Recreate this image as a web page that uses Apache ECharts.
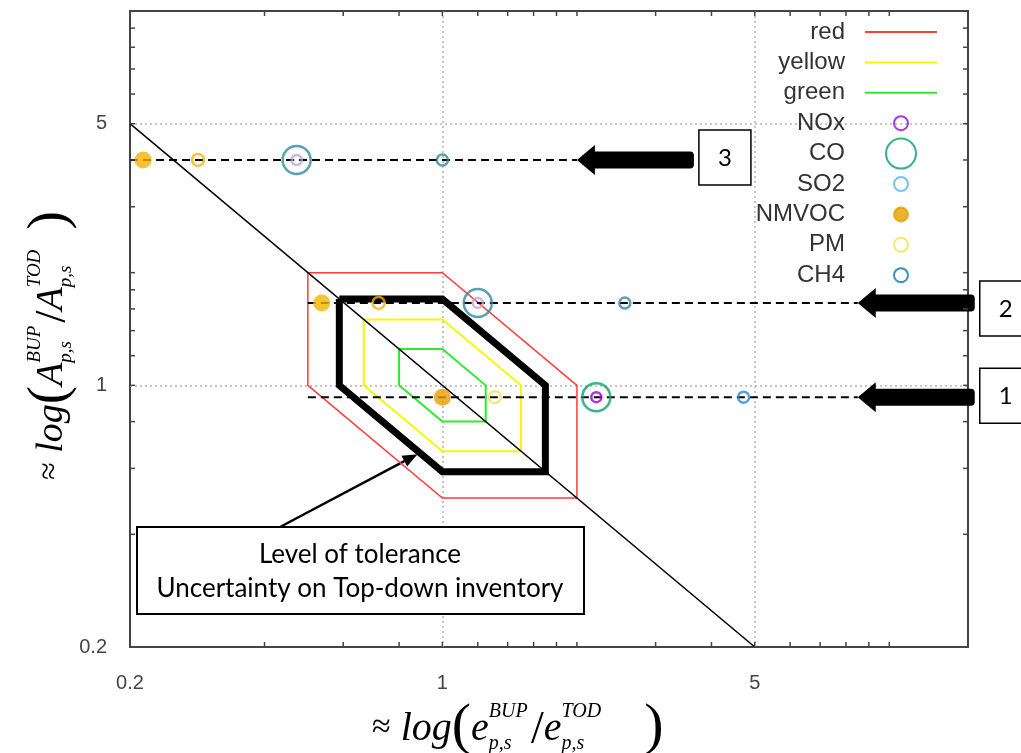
<!DOCTYPE html>
<html>
<head>
<meta charset="utf-8">
<title>Level of tolerance</title>
<script src="https://cdn.jsdelivr.net/npm/echarts@6/dist/echarts.min.js"></script>
<style>
  html, body { margin: 0; padding: 0; background: #fff; }
  #chart { width: 1021px; height: 753px; }
</style>
</head>
<body>
<div id="chart"></div>
<script>
// axis ranges and ticks
const X_RANGE = [0.2, 15];
const Y_RANGE = [0.2, 10];
const TICK_LABELS = [0.2, 1, 5];
const X_TICKS = [0.4, 0.6, 0.8, 1, 1.2, 1.4, 1.6, 1.8, 2, 3, 4, 5, 6, 7, 8, 9, 10];
const Y_TICKS = [0.4, 0.6, 0.8, 1, 1.2, 1.4, 1.6, 1.8, 2, 3, 4, 5, 6, 7, 8, 9];

// tolerance hexagons (vertices, closed)
const RED_HEX = [[0.5, 2], [1, 2], [2, 1], [2, 0.5], [1, 0.5], [0.5, 1], [0.5, 2]];
const YELLOW_HEX = [[0.667, 1.5], [1, 1.5], [1.5, 1], [1.5, 0.667], [1, 0.667], [0.667, 1], [0.667, 1.5]];
const GREEN_HEX = [[0.8, 1.25], [1, 1.25], [1.25, 1], [1.25, 0.8], [1, 0.8], [0.8, 1], [0.8, 1.25]];
const INVENTORY_HEX = [[0.588, 1.7], [1, 1.7], [1.7, 1], [1.7, 0.588], [1, 0.588], [0.588, 1], [0.588, 1.7]];

// diagonal x*y = 1
const DIAGONAL = [[0.2, 5], [5, 0.2]];

// dashed rows 1, 2, 3
const ROW_LABELS = ['1', '2', '3'];
const ROW_Y = [0.93, 1.66, 4.0];
const ROW_X_START = [0.5, 0.5, 0.2];
const ROW_X_END = [8.5, 8.5, 2.0];

// pollutant x values on rows 1, 2, 3
const NOX_X = [2.21, 1.2, 0.472];
const CO_X = [2.21, 1.2, 0.472];
const SO2_X = [];
const NMVOC_X = [1.0, 0.537, 0.214];
const PM_X = [1.31, 0.72, 0.284];
const CH4_X = [4.72, 2.56, 1.0];

// pointer target of the tolerance note
const NOTE_TARGET = [0.88, 0.655];

const LEGEND_ORDER = ['red', 'yellow', 'green', 'NOx', 'CO', 'SO2', 'NMVOC', 'PM', 'CH4'];

// styles
const HEX_STYLE = {
  red: { color: '#ff3b3b', width: 1.5 },
  yellow: { color: '#f7f700', width: 2 },
  green: { color: '#2eea2e', width: 2 },
  inventory: { color: '#000', width: 7 }
};

const MARKERS = {
  NOx: { legend: '#9400d3', rows: ['#9400d3', '#b7a5d6', '#b7a5d6'], size: 10, open: true, z: 6 },
  CO: { legend: '#009e73', rows: ['#0f9e73', '#2f8a9c', '#2f8a9c'], size: 28, open: true, z: 5 },
  SO2: { legend: '#56b4e9', rows: [], size: 11, open: true, z: 5 },
  NMVOC: { legend: '#e69f00', rows: ['#e69f00', '#f5b400', '#f5b400'], size: 17, open: false, z: 5 },
  PM: { legend: '#f0e442', rows: ['#efe060', '#f5b400', '#f5b400'], size: 12, open: true, z: 5 },
  CH4: { legend: '#0072b2', rows: ['#2f88cf', '#2f8a9c', '#2f8a9c'], size: 11, open: true, z: 5 }
};

// legend icons: the M0,0 / M..,30 moves pin every icon box to the full item height,
// and every icon is stroked 2px so all legend rows get the same height
const SMALL_RING = 'path://M0,0M30,30M8,15A7,7,0,1,1,22,15A7,7,0,1,1,8,15Z';
const DOT = 'path://M0,0M30,30M8,15A7,7,0,1,1,22,15A7,7,0,1,1,8,15Z';
const LINE_ICON = 'path://M0,0M72,30M0,15H72';

const BOX_DY = [-1.5, 5.5, -2.5];

const chart = echarts.init(document.getElementById('chart'));

function fmtTick(v) {
  const hit = TICK_LABELS.find(t => Math.abs(Math.log(v / t)) < 1e-6);
  return hit === undefined ? '' : String(hit);
}

function logAxis(range, margin) {
  return {
    type: 'log',
    logBase: 5,
    min: range[0],
    max: range[1],
    axisLine: { show: false },
    axisTick: { show: false },
    splitLine: {
      show: true,
      showMinLine: false,
      showMaxLine: false,
      lineStyle: { color: '#b3b3b3', width: 1.5, type: [2, 3] }
    },
    axisLabel: {
      margin: margin,
      fontSize: 20,
      color: '#444',
      fontFamily: 'Liberation Sans',
      formatter: fmtTick
    }
  };
}

// hexagon / plain line series
function lineSeries(name, data, style, z) {
  return {
    name: name,
    type: 'line',
    data: data,
    symbol: 'none',
    silent: true,
    z: z,
    lineStyle: { color: style.color, width: style.width, join: 'miter' },
    itemStyle: { color: style.color }
  };
}

function markerSeries(name, xs) {
  const m = MARKERS[name];
  const itemStyleFor = c => m.open
    ? { color: 'rgba(0,0,0,0)', borderColor: c, borderWidth: 2.5 }
    : { color: c, borderWidth: 0 };
  return {
    name: name,
    type: 'scatter',
    symbol: 'circle',
    symbolSize: m.size,
    silent: true,
    z: m.z,
    itemStyle: itemStyleFor(m.legend),
    data: xs.map((x, i) => ({ value: [x, ROW_Y[i]], itemStyle: itemStyleFor(m.rows[i]) }))
  };
}

function legendItem(name) {
  if (HEX_STYLE[name]) {
    const c = HEX_STYLE[name].color;
    return { name: name, icon: LINE_ICON, itemStyle: { color: c, borderColor: c, borderWidth: 2 } };
  }
  const c = MARKERS[name].legend;
  if (name === 'NMVOC') {
    return { name: name, icon: DOT, itemStyle: { color: c, borderColor: c, borderWidth: 2 } };
  }
  return {
    name: name,
    icon: name === 'CO' ? 'circle' : SMALL_RING,
    itemStyle: { color: 'rgba(0,0,0,0)', borderColor: c, borderWidth: 2 }
  };
}

// tick marks on all four sides of the frame
const tickData = X_TICKS.map(v => [v, Y_RANGE[0], 0]).concat(Y_TICKS.map(v => [X_RANGE[0], v, 1]));
const tickSeries = {
  type: 'custom',
  silent: true,
  clip: false,
  z: 8,
  data: tickData,
  encode: { x: 0, y: 1 },
  renderItem(params, api) {
    const cs = params.coordSys;
    const p = api.coord([api.value(0), api.value(1)]);
    const L = 5;
    let segs;
    if (api.value(2) === 0) {
      const bottom = cs.y + cs.height;
      segs = [[p[0], bottom, p[0], bottom - L], [p[0], cs.y, p[0], cs.y + L]];
    } else {
      const right = cs.x + cs.width;
      segs = [[cs.x, p[1], cs.x + L, p[1]], [right, p[1], right - L, p[1]]];
    }
    return {
      type: 'group',
      children: segs.map(s => ({
        type: 'line',
        shape: { x1: s[0], y1: s[1], x2: s[2], y2: s[3] },
        style: { stroke: '#444', lineWidth: 1.5 }
      }))
    };
  }
};

const rowSeries = ROW_Y.map((y, i) => ({
  type: 'line',
  data: [[ROW_X_START[i], y], [ROW_X_END[i], y]],
  symbol: 'none',
  silent: true,
  z: 4,
  lineStyle: { color: '#000', width: 2, type: [8, 5] }
}));

// math axis titles, laid out piece by piece
const measureCtx = document.createElement('canvas').getContext('2d');
const SERIF = '"Liberation Serif", "DejaVu Serif", serif';

function mathTitle(letter, F, closeGap) {
  const pieces = [];
  let x = 0;
  const put = (t, size, italic, dy, advance) => {
    const font = (italic ? 'italic ' : '') + size + 'px ' + SERIF;
    measureCtx.font = font;
    const w = measureCtx.measureText(t).width;
    pieces.push({
      type: 'text',
      x: x,
      y: dy - 0.32 * size,
      style: { text: t, font: font, fill: '#000', align: 'left', verticalAlign: 'middle' }
    });
    if (advance !== false) x += w;
    return w;
  };
  const scripts = (sup, sub) => {
    const s = F * 0.5;
    const w1 = put(sup, s, true, -0.6 * F, false);
    const w2 = put(sub, s, true, 0.2 * F, false);
    x += Math.max(w1, w2) + 0.08 * F;
  };
  put('≈', F * 0.85, false, -0.08 * F);
  x += 0.25 * F;
  put('log', F, true, 0);
  put('(', F * 1.45, false, 0.12 * F);
  put(letter, F, true, 0);
  scripts('BUP', 'p,s');
  put('/', F * 1.15, false, 0.1 * F);
  put(letter, F, true, 0);
  scripts('TOD', 'p,s');
  x += closeGap * F;
  put(')', F * 1.45, false, 0.12 * F);
  return pieces;
}

const option = {
  animation: false,
  backgroundColor: '#fff',
  grid: {
    show: true,
    left: 130, right: 53, top: 11, bottom: 106,
    borderColor: '#444', borderWidth: 2,
    backgroundColor: 'rgba(0,0,0,0)'
  },
  xAxis: logAxis(X_RANGE, 26),
  yAxis: logAxis(Y_RANGE, 23),
  legend: {
    orient: 'vertical',
    right: 83,
    top: 16,
    padding: 0,
    align: 'right',
    itemWidth: 72,
    itemHeight: 30,
    itemGap: -1.6,
    selectedMode: false,
    textStyle: {
      fontFamily: 'Liberation Sans', fontSize: 24, lineHeight: 30,
      color: '#333', padding: [0, 15, 0, 0]
    },
    data: LEGEND_ORDER.map(legendItem)
  },
  series: [
    lineSeries('red', RED_HEX, HEX_STYLE.red, 2),
    lineSeries('yellow', YELLOW_HEX, HEX_STYLE.yellow, 2),
    lineSeries('green', GREEN_HEX, HEX_STYLE.green, 2),
    lineSeries('inventory', INVENTORY_HEX, HEX_STYLE.inventory, 3),
    lineSeries('diagonal', DIAGONAL, { color: '#000', width: 1.5 }, 3),
    ...rowSeries,
    markerSeries('CO', CO_X),
    markerSeries('NOx', NOX_X),
    markerSeries('SO2', SO2_X),
    markerSeries('NMVOC', NMVOC_X),
    markerSeries('PM', PM_X),
    markerSeries('CH4', CH4_X),
    tickSeries
  ]
};

chart.setOption(option);

// annotations: arrows, numbered boxes, tolerance note, axis titles
function buildGraphics() {
  const els = [];
  ROW_Y.forEach((y, i) => {
    const [tx, ty] = chart.convertToPixel({ gridIndex: 0 }, [ROW_X_END[i], y]);
    els.push({ type: 'rect', shape: { x: tx + 14, y: ty - 8.5, width: 103, height: 17, r: 4 }, style: { fill: '#000' } });
    els.push({ type: 'polygon', shape: { points: [[tx, ty], [tx + 18, ty - 15], [tx + 18, ty + 15]] }, style: { fill: '#000' } });
    const bx = tx + 122;
    const by = ty + BOX_DY[i] - 27.5;
    els.push({ type: 'rect', shape: { x: bx, y: by, width: 52, height: 55 }, style: { fill: '#fff', stroke: '#000', lineWidth: 1.5 } });
    els.push({
      type: 'text', x: bx + 26, y: by + 28,
      style: { text: ROW_LABELS[i], font: '24px Lato', fill: '#000', align: 'center', verticalAlign: 'middle' }
    });
  });

  // tolerance note with pointer
  const [px, py] = chart.convertToPixel({ gridIndex: 0 }, NOTE_TARGET);
  const sx = 280, sy = 527;
  const ang = Math.atan2(py - sy, px - sx);
  const hl = 15, hw = 6;
  const bx0 = px - hl * Math.cos(ang), by0 = py - hl * Math.sin(ang);
  els.push({ type: 'line', shape: { x1: sx, y1: sy, x2: bx0, y2: by0 }, style: { stroke: '#000', lineWidth: 2.5 } });
  els.push({
    type: 'polygon',
    shape: { points: [[px, py], [bx0 + hw * Math.sin(ang), by0 - hw * Math.cos(ang)], [bx0 - hw * Math.sin(ang), by0 + hw * Math.cos(ang)]] },
    style: { fill: '#000' }
  });
  els.push({ type: 'rect', shape: { x: 137, y: 527, width: 447, height: 87 }, style: { fill: '#fff', stroke: '#000', lineWidth: 2 } });
  els.push({
    type: 'text', x: 360, y: 555,
    style: { text: 'Level of tolerance', font: '26px Lato', fill: '#000', align: 'center', verticalAlign: 'middle' }
  });
  els.push({
    type: 'text', x: 360, y: 589,
    style: { text: 'Uncertainty on Top-down inventory', font: '26px Lato', fill: '#000', align: 'center', verticalAlign: 'middle' }
  });

  // axis titles
  els.push({ type: 'group', x: 372, y: 742, children: mathTitle('e', 40, 1.0) });
  els.push({ type: 'group', x: 64, y: 480, rotation: Math.PI / 2, children: mathTitle('A', 38, 0.45) });
  return els;
}

chart.setOption({ graphic: { elements: buildGraphics() } });
</script>
</body>
</html>
